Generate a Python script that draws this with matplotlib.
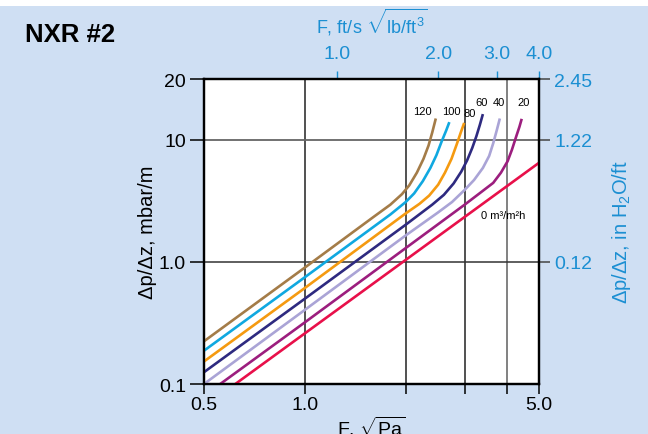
import numpy as np
import matplotlib
matplotlib.use("Agg")
import matplotlib.pyplot as plt
from matplotlib.patches import Rectangle

plt.rcParams['font.family'] = ['Liberation Sans', 'DejaVu Sans']
plt.rcParams['mathtext.fontset'] = 'custom'
plt.rcParams['mathtext.rm'] = 'Liberation Sans'
plt.rcParams['mathtext.it'] = 'Liberation Sans:italic'

BG = '#cfdff3'
BLUE = '#1b8fd2'

# liquid loads (m3/m2h) and curve colours
loads = ['120', '100', '80', '60', '40', '20', '0 m³/m²h']
colors = ['#a47c48', '#10a8e0', '#f59a10', '#2e2a80', '#aaa4d6', '#9c1e7e', '#e8104a']

# F-factor (sqrt(Pa)) and pressure drop (mbar/m)
F_120 = [0.5, 1.0, 1.6, 1.8, 1.95, 2.05, 2.16, 2.26, 2.34, 2.40, 2.46]
dp_120 = [0.224, 0.9, 2.33, 2.95, 3.6, 4.25, 5.4, 7.0, 9.0, 11.5, 15.0]
F_100 = [0.5, 1.0, 1.8, 2.0, 2.12, 2.25, 2.37, 2.47, 2.56, 2.64, 2.70]
dp_100 = [0.1875, 0.75, 2.45, 3.1, 3.65, 4.6, 5.9, 7.5, 9.7, 11.9, 14.0]
F_80 = [0.5, 1.0, 2.0, 2.2, 2.35, 2.5, 2.62, 2.74, 2.84, 2.92, 2.99]
dp_80 = [0.153, 0.612, 2.5, 3.0, 3.5, 4.3, 5.4, 7.0, 9.2, 11.5, 13.8]
F_60 = [0.5, 1.0, 2.0, 2.4, 2.6, 2.78, 2.93, 3.05, 3.16, 3.25, 3.33, 3.40]
dp_60 = [0.125, 0.5, 2.02, 2.95, 3.55, 4.4, 5.5, 6.8, 8.6, 10.7, 13.3, 16.3]
F_40 = [0.5, 1.0, 2.0, 2.5, 2.75, 3.0, 3.2, 3.4, 3.55, 3.65, 3.74, 3.82]
dp_40 = [0.1, 0.405, 1.65, 2.55, 3.1, 3.9, 4.7, 5.9, 7.4, 9.4, 12.0, 15.0]
F_20 = [0.5, 1.0, 2.0, 3.0, 3.3, 3.65, 3.85, 4.03, 4.15, 4.29, 4.37, 4.44]
dp_20 = [0.08, 0.32, 1.3, 2.95, 3.6, 4.45, 5.4, 6.7, 8.3, 11.0, 12.8, 14.9]
F_0 = [0.5, 5.0]
dp_0 = [0.065, 6.5]

curves_F = [F_120, F_100, F_80, F_60, F_40, F_20, F_0]
curves_dp = [dp_120, dp_100, dp_80, dp_60, dp_40, dp_20, dp_0]

# label anchor points (data coords)
label_F = [2.25, 2.73, 3.11, 3.38, 3.80, 4.51, 3.90]
label_dp = [17.3, 17.3, 16.6, 20.5, 20.5, 20.5, 2.43]

Y_TOP = 31.6  # top of the frame, labelled "20" on the original
yticks_left = [0.1, 1.0, 10.0, Y_TOP]
yticklabels_left = ['0.1', '1.0', '10', '20']
yticks_right = [1.0, 10.0, Y_TOP]
yticklabels_right = ['0.12', '1.22', '2.45']
xticks = [0.5, 1.0, 2.0, 3.0, 4.0, 5.0]
xticklabels = ['0.5', '1.0', '', '', '', '5.0']
top_ticks = [1.0, 2.0, 3.0, 4.0]
top_ticklabels = ['1.0', '2.0', '3.0', '4.0']
SI_PER_IMP = 1.25

fig = plt.figure(figsize=(6.48, 4.35), dpi=100, facecolor=BG)
fig.patches.append(Rectangle((0, 1 - 7 / 435), 1, 7 / 435, transform=fig.transFigure,
                             facecolor='white', edgecolor='none', zorder=-1))
ax = fig.add_axes([204 / 648, 1 - 385 / 435, 335 / 648, 305 / 435])
ax.set_facecolor('white')
ax.set_xscale('log')
ax.set_yscale('log')
ax.set_xlim(0.5, 5.0)
ax.set_ylim(0.1, Y_TOP)

# grid lines
for xv in [1.0, 2.0, 3.0]:
    ax.axvline(xv, color='#222222', lw=1.1, zorder=1)
ax.axvline(4.0, color='#777777', lw=1.3, zorder=1)
ax.axhline(10.0, color='#666666', lw=1.3, zorder=1)
ax.axhline(1.0, color='#333333', lw=1.1, zorder=1)

for F, dp, c in zip(curves_F, curves_dp, colors):
    ax.plot(F, dp, color=c, lw=1.9, zorder=3, solid_capstyle='butt', solid_joinstyle='round')

for lab, xf, yd in zip(loads, label_F, label_dp):
    ax.text(xf, yd, lab, fontsize=8, ha='center', va='center', zorder=4)

ax.set_xticks(xticks)
ax.set_xticklabels(xticklabels)
ax.xaxis.set_minor_locator(matplotlib.ticker.NullLocator())
ax.set_yticks(yticks_left)
ax.set_yticklabels(yticklabels_left)
ax.yaxis.set_minor_locator(matplotlib.ticker.NullLocator())
ax.tick_params(axis='x', direction='out', length=7, width=1.1, labelsize=14, pad=2)
ax.tick_params(axis='y', direction='out', length=10, width=1.1, labelsize=14, pad=3)
for s in ax.spines.values():
    s.set_linewidth(1.6)
    s.set_color('black')

ax.set_xlabel(r'F, $\sqrt{\mathrm{Pa}}$', fontsize=14, labelpad=0)
ax.set_ylabel('Δp/Δz, mbar/m', fontsize=14.5, labelpad=1)

# right axis in inches of water per foot
axr = ax.twinx()
axr.set_yscale('log')
axr.set_ylim(ax.get_ylim())
axr.set_yticks(yticks_right)
axr.set_yticklabels(yticklabels_right)
axr.yaxis.set_minor_locator(matplotlib.ticker.NullLocator())
axr.tick_params(axis='y', direction='out', length=8, width=1.1, labelsize=14,
                colors='#444444', labelcolor=BLUE, pad=3)
axr.set_ylabel(r'Δp/Δz, in H$_2$O/ft', fontsize=14.5, color=BLUE, labelpad=13)
for s in axr.spines.values():
    s.set_linewidth(1.6)

# top axis in imperial F-factor
axt = ax.secondary_xaxis('top', functions=(lambda f: f / SI_PER_IMP, lambda f: f * SI_PER_IMP))
axt.set_xticks(top_ticks)
axt.set_xticklabels(top_ticklabels)
axt.xaxis.set_minor_locator(matplotlib.ticker.NullLocator())
axt.tick_params(axis='x', direction='out', length=6, width=1.0, colors=BLUE,
                labelsize=14, pad=6)
axt.spines['top'].set_visible(False)
axt.set_xlabel(r'F, ft/s $\sqrt{\mathrm{lb/ft^3}}$', fontsize=13, color=BLUE, labelpad=9)

fig.text(25 / 648, 1 - 35 / 435, 'NXR #2', fontsize=18.5, fontweight='bold', ha='left', va='center')

fig.savefig('out.png', dpi=100, facecolor=BG)
